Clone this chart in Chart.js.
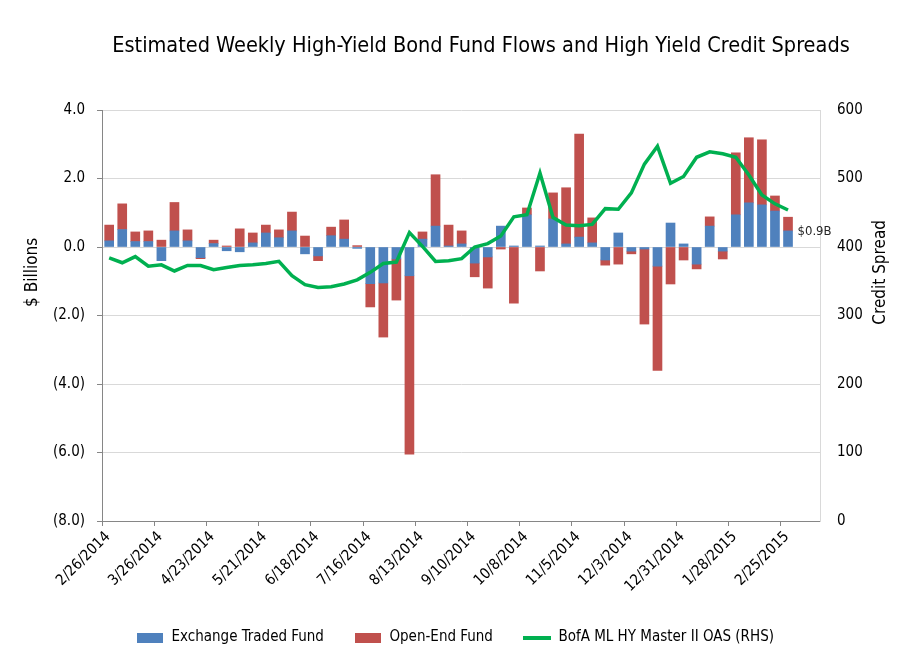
<!DOCTYPE html>
<html>
<head>
<meta charset="utf-8">
<title>High-Yield Bond Fund Flows</title>
<script src="https://cdn.jsdelivr.net/npm/chart.js@4.4.1/dist/chart.umd.min.js"></script>
<style>
  html, body { margin: 0; padding: 0; background: #fff; }
  canvas { display: block; }
</style>
</head>
<body>
<canvas id="flows" width="910" height="660"></canvas>
<script>
// tick labels, one every four weeks
const dateLabels = ["2/26/2014", "3/26/2014", "4/23/2014", "5/21/2014", "6/18/2014", "7/16/2014",
  "8/13/2014", "9/10/2014", "10/8/2014", "11/5/2014", "12/3/2014", "12/31/2014", "1/28/2015", "2/25/2015"];

// weekly flows, $ billions
const etfFlows = [0.18, 0.51, 0.16, 0.16, -0.40, 0.47, 0.18, -0.31, 0.10, -0.11, -0.14, 0.12, 0.41,
  0.27, 0.47, -0.20, -0.26, 0.33, 0.23, -0.04, -1.07, -1.05, -0.35, -0.84, 0.23, 0.61,
  0.03, 0.09, -0.47, -0.29, 0.61, 0.03, 0.94, 0.03, 0.82, 0.09, 0.29, 0.12,
  -0.38, 0.41, -0.12, -0.06, -0.56, 0.70, 0.09, -0.50, 0.61, -0.12, 0.94, 1.29, 1.23, 1.05, 0.47];
const oefFlows = [0.46, 0.75, 0.28, 0.31, 0.20, 0.83, 0.32, -0.03, 0.10, 0.03, 0.53, 0.29, 0.23,
  0.23, 0.55, 0.32, -0.14, 0.25, 0.56, 0.04, -0.68, -1.58, -1.20, -5.21, 0.21, 1.50,
  0.61, 0.38, -0.40, -0.91, -0.06, -1.64, 0.20, -0.70, 0.76, 1.64, 3.01, 0.73,
  -0.15, -0.50, -0.08, -2.19, -3.04, -1.08, -0.38, -0.14, 0.27, -0.23, 1.81, 1.90, 1.90, 0.44, 0.40];

// BofA ML HY Master II OAS, bp
const oasSpread = [384, 377, 386, 372, 374, 365, 373, 373, 367, 370, 373, 374, 376,
  379, 358, 345, 341, 342, 346, 352, 363, 376, 378, 421, 401, 379,
  380, 383, 400, 405, 416, 444, 447, 508, 443, 432, 431, 433,
  456, 455, 479, 521, 547, 493, 503, 531, 539, 536, 531, 505, 476, 463, 454];

const seriesNames = ["Exchange Traded Fund", "Open-End Fund", "BofA ML HY Master II OAS (RHS)"];

const FONT = "'Liberation Sans Narrow', 'DejaVu Sans Condensed', sans-serif";
const BLUE = "#4f81bd", RED = "#c0504d", GREEN = "#00b050";
const WEEK_SHIFT = 0.55; // flow weeks sit a few days after the tick date

Chart.defaults.font.family = FONT;
Chart.defaults.color = "#000";

const pts = arr => arr.map((v, i) => ({ x: i + WEEK_SHIFT, y: v }));

function swatch(color, w, h) {
  const c = document.createElement("canvas");
  c.width = w; c.height = h;
  const g = c.getContext("2d");
  g.fillStyle = color;
  g.fillRect(0, 0, w, h);
  return c;
}
const swatches = [swatch(BLUE, 26, 10), swatch(RED, 26, 10), swatch(GREEN, 28, 4)];

const fmtBillions = v => v < 0 ? "(" + Math.abs(v).toFixed(1) + ")" : v.toFixed(1);

// title, axis titles and the last-bar label
const extras = {
  id: "extras",
  afterDraw(chart) {
    const { ctx, chartArea, scales } = chart;
    ctx.save();
    ctx.fillStyle = "#000";
    ctx.textBaseline = "middle";

    ctx.textAlign = "center";
    ctx.font = "21.5px " + FONT;
    ctx.fillText("Estimated Weekly High-Yield Bond Fund Flows and High Yield Credit Spreads", 481, 46);

    ctx.font = "17px " + FONT;
    const midY = chartArea.top + (chartArea.bottom - chartArea.top) * 0.395;
    ctx.save();
    ctx.translate(33, midY);
    ctx.rotate(-Math.PI / 2);
    ctx.fillText("$ Billions", 0, 0);
    ctx.restore();
    ctx.save();
    ctx.translate(881, midY);
    ctx.rotate(-Math.PI / 2);
    ctx.fillText("Credit Spread", 0, 0);
    ctx.restore();

    const last = etfFlows.length - 1;
    const bar = chart.getDatasetMeta(1).data[last];
    const total = etfFlows[last] + oefFlows[last];
    const zero = scales.y.getPixelForValue(0);
    ctx.textAlign = "left";
    ctx.font = "13px " + FONT;
    ctx.fillStyle = "#262626";
    ctx.fillText("$" + total.toFixed(1) + "B", bar.x + bar.width / 2 + 5, (bar.y + zero) / 2);
    ctx.restore();
  }
};

new Chart(document.getElementById("flows"), {
  type: "bar",
  data: {
    datasets: [
      { label: seriesNames[0], data: pts(etfFlows), backgroundColor: BLUE, barThickness: 9, order: 1 },
      { label: seriesNames[1], data: pts(oefFlows), backgroundColor: RED, barThickness: 9, order: 1 },
      {
        type: "line", label: seriesNames[2], data: pts(oasSpread), yAxisID: "y1",
        borderColor: GREEN, borderWidth: 3.5, pointRadius: 0, tension: 0, fill: false, order: 0
      }
    ]
  },
  options: {
    responsive: false,
    animation: false,
    layout: { padding: { top: 110, bottom: 5, left: 0, right: 0 } },
    plugins: {
      title: { display: false },
      tooltip: { enabled: false },
      legend: {
        position: "bottom",
        labels: {
          font: { size: 15 },
          color: "#000",
          padding: 30,
          usePointStyle: true,
          pointStyleWidth: 28,
          boxHeight: 10,
          generateLabels(chart) {
            const items = Chart.defaults.plugins.legend.labels.generateLabels(chart);
            items.sort((a, b) => a.datasetIndex - b.datasetIndex);
            return items.map(it => ({ ...it, pointStyle: swatches[it.datasetIndex] }));
          }
        }
      }
    },
    scales: {
      x: {
        type: "linear",
        min: 0,
        max: 55,
        offset: false,
        stacked: true,
        afterBuildTicks: s => { s.ticks = dateLabels.map((_, i) => ({ value: i * 4 })); },
        afterFit: s => { s.height = 79; },
        grid: { offset: false, drawOnChartArea: false, tickLength: 5, tickColor: "#868686" },
        border: { color: "#868686" },
        ticks: {
          autoSkip: false,
          minRotation: 45,
          maxRotation: 45,
          labelOffset: 6,
          padding: 2,
          font: { size: 15 },
          callback: (v, i) => dateLabels[i]
        }
      },
      y: {
        position: "left",
        min: -8,
        max: 4,
        stacked: true,
        afterFit: s => { s.width = 102; },
        grid: { color: "#d9d9d9", tickLength: 5, tickColor: "#868686" },
        border: { color: "#868686" },
        ticks: { stepSize: 2, padding: 12, font: { size: 15 }, callback: v => fmtBillions(v) }
      },
      y1: {
        position: "right",
        min: 0,
        max: 600,
        afterFit: s => { s.width = 90; },
        grid: { display: false, drawTicks: false },
        border: { color: "#d9d9d9" },
        ticks: { stepSize: 100, padding: 17, font: { size: 15 } }
      }
    }
  },
  plugins: [extras]
});
</script>
</body>
</html>
